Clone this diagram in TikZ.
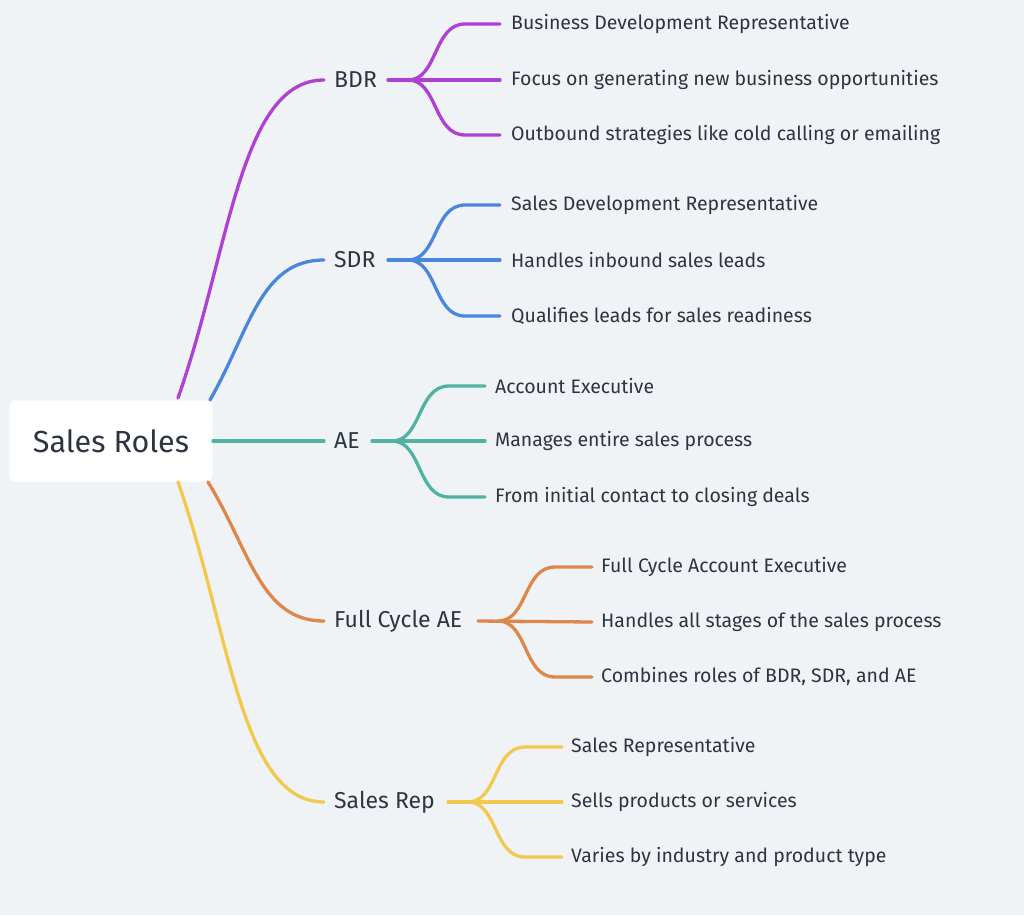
\documentclass[tikz,border=0pt]{standalone}
\usepackage{fontspec}
\setmainfont{Fira Sans}
\definecolor{bg}{HTML}{F0F3F6}
\definecolor{txt}{HTML}{2E3440}
\definecolor{cP}{HTML}{B03FD6}
\definecolor{cB}{HTML}{4A86DB}
\definecolor{cG}{HTML}{4FB3A2}
\definecolor{cO}{HTML}{DE874A}
\definecolor{cY}{HTML}{F2C94C}
\begin{document}
\begin{tikzpicture}[x=1pt,y=-1pt,
 br/.style={line width=3.3pt,line cap=round},
 lab/.style={font=\fontsize{23}{27}\selectfont,text=txt,anchor=west,inner sep=0},
 leaf/.style={font=\fontsize{19.5}{23}\selectfont,text=txt,anchor=west,inner sep=0}]
\fill[bg] (0,0) rectangle (1024,915);
\useasboundingbox (0,0) rectangle (1024,915);
\node[fill=white,rounded corners=6pt,minimum width=203pt,minimum height=81pt,inner sep=0] (root) at (111,441) {};
\node[font=\fontsize{30.5}{36}\selectfont,text=txt] (rt) at (111,441) {Sales Roles};
% main labels
\node[lab] (bdr) at (334,80) {BDR};
\node[lab] (sdr) at (334,260) {SDR};
\node[lab] (ae) at (334,441) {AE};
\node[lab] (fc) at (334,621) {Full Cycle AE};
\node[lab] (sr) at (334,802) {Sales Rep};
% main branches
\coordinate (s1) at (178,398); \coordinate (e1) at (324,80);
\coordinate (s2) at (210,400); \coordinate (e2) at (324,260);
\coordinate (s3) at (213,441); \coordinate (e3) at (324,441);
\coordinate (s4) at (208,482); \coordinate (e4) at (324,621);
\coordinate (s5) at (178,482); \coordinate (e5) at (324,802);
\draw[br,cP] (s1) .. controls (230,250) and (240,80) .. (e1);
\draw[br,cB] (s2) .. controls (250,330) and (260,260) .. (e2);
\draw[br,cG] (s3) -- (e3);
\draw[br,cO] (s4) .. controls (250,550) and (260,621) .. (e4);
\draw[br,cY] (s5) .. controls (230,630) and (240,802) .. (e5);
% sub branch macro
\newcommand{\grp}[8]{% color, x0, y, xf, xe, y1,y2,y3
 \coordinate (#1a) at (#2,#3); \coordinate (#1f) at (#4,#3);
 \draw[br,#1] (#1a) -- (#5,#7);
 \draw[br,#1] (#1f) .. controls (#4+30,#3) and (#4+25,#6) .. (#4+57,#6) -- (#5,#6);
 \draw[br,#1] (#1f) .. controls (#4+30,#3) and (#4+25,#8) .. (#4+57,#8) -- (#5,#8);}
\grp{cP}{388}{80}{408}{500}{24}{80}{135}
\grp{cB}{388}{260}{408}{500}{205}{260}{316}
\grp{cG}{372}{441}{392}{485}{386}{441}{497}
\grp{cO}{478}{621}{498}{592}{567}{622}{677}
\grp{cY}{448}{802}{468}{562}{747}{802}{857}
\node[leaf] (b1) at (511,24) {Business Development Representative};
\node[leaf] (b2) at (511,80) {Focus on generating new business opportunities};
\node[leaf] (b3) at (511,135) {Outbound strategies like cold calling or emailing};
\node[leaf] (d1) at (511,205) {Sales Development Representative};
\node[leaf] (d2) at (511,260) {Handles inbound sales leads};
\node[leaf] (d3) at (511,316) {Qualifies leads for sales readiness};
\node[leaf] (a1) at (495,386) {Account Executive};
\node[leaf] (a2) at (495,441) {Manages entire sales process};
\node[leaf] (a3) at (495,497) {From initial contact to closing deals};
\node[leaf] (f1) at (601,567) {Full Cycle Account Executive};
\node[leaf] (f2) at (601,622) {Handles all stages of the sales process};
\node[leaf] (f3) at (601,677) {Combines roles of BDR, SDR, and AE};
\node[leaf] (r1) at (571,747) {Sales Representative};
\node[leaf] (r2) at (571,802) {Sells products or services};
\node[leaf] (r3) at (571,857) {Varies by industry and product type};
\end{tikzpicture}
\end{document}
